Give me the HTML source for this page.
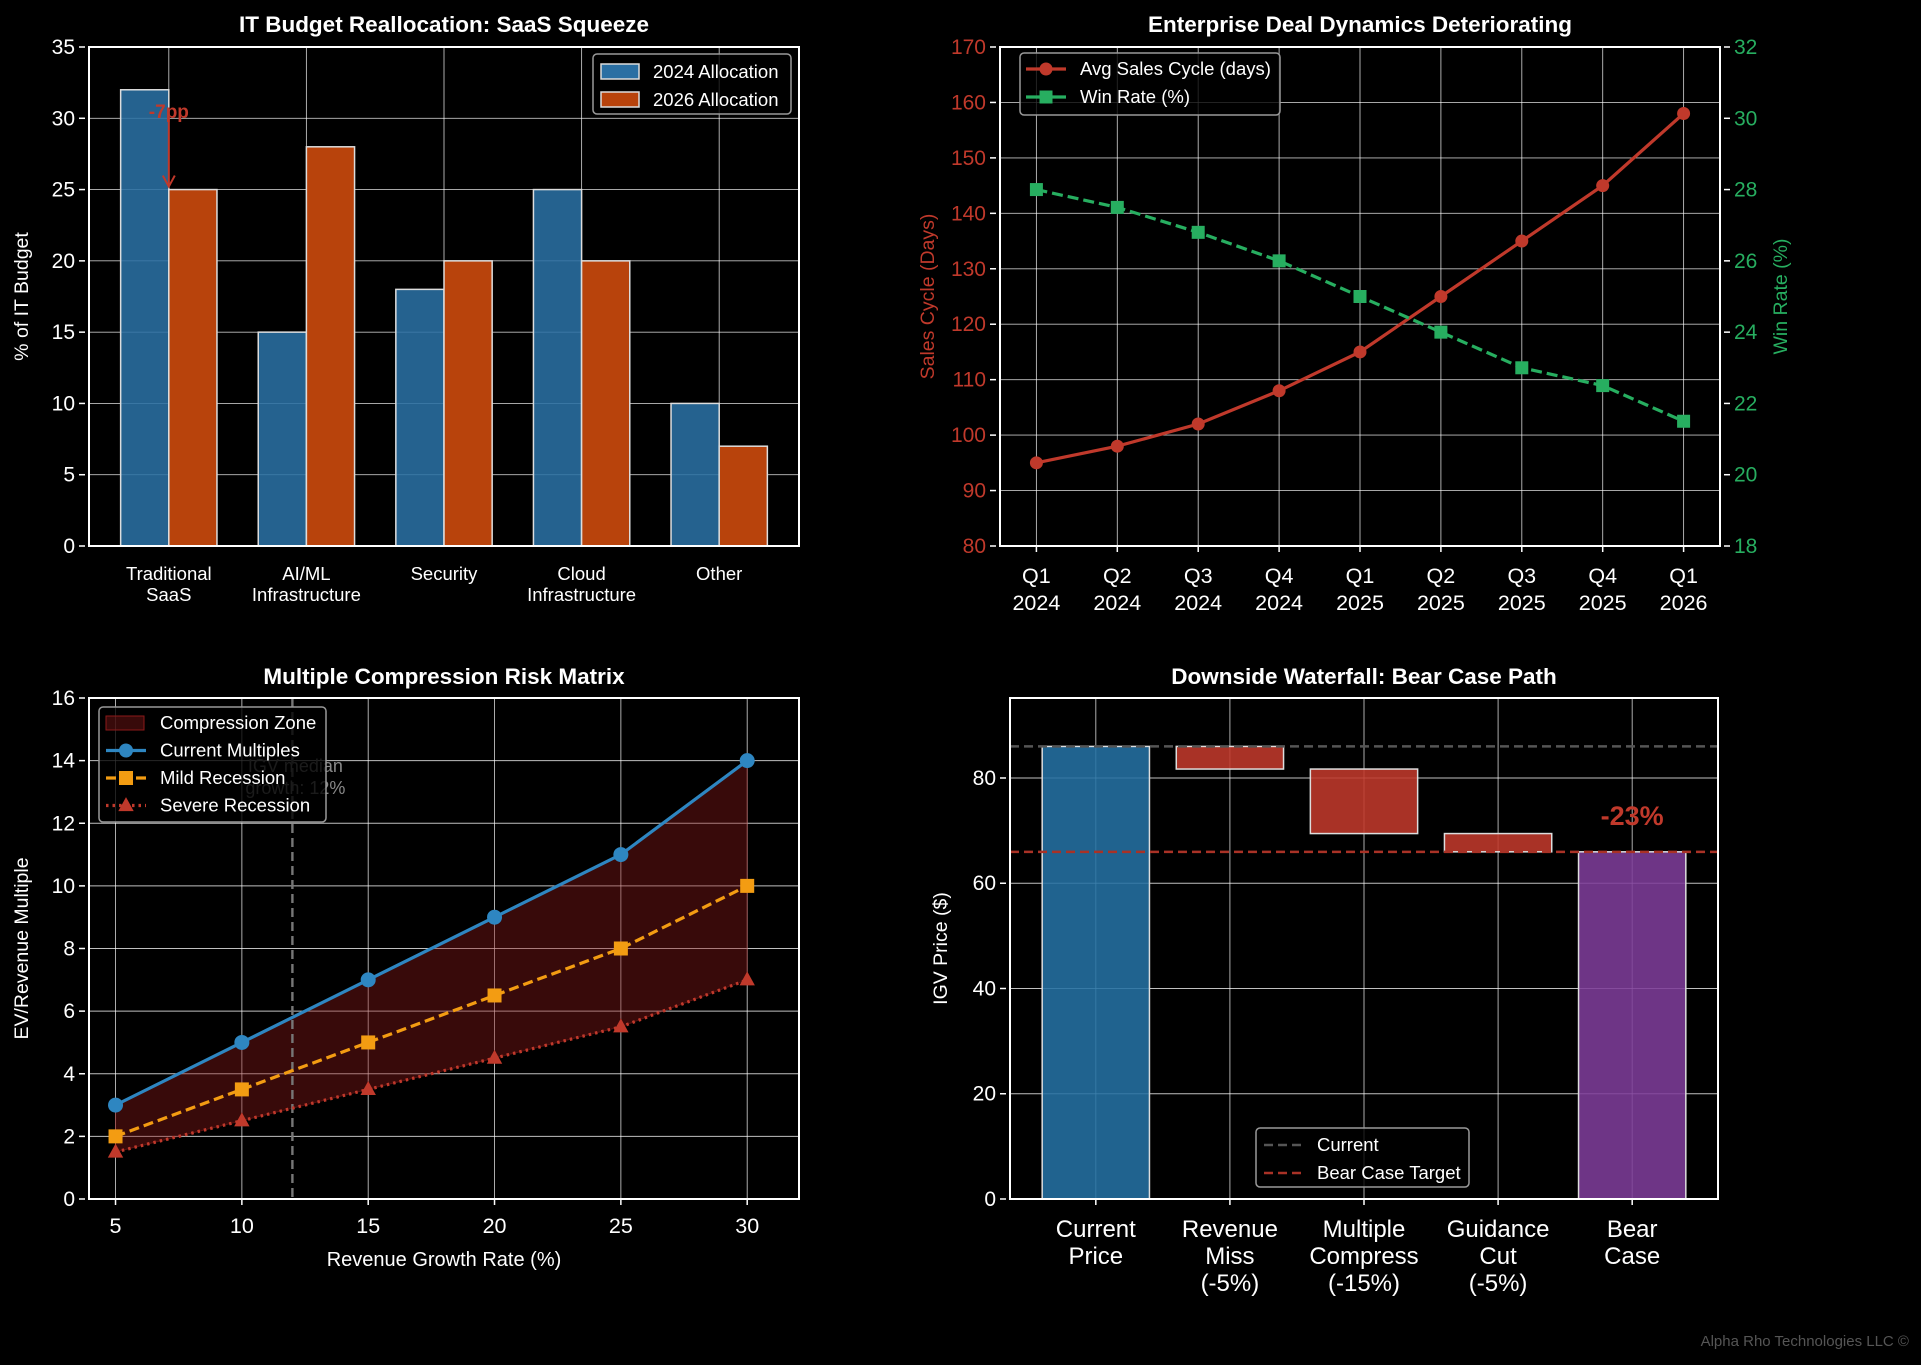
<!DOCTYPE html>
<html><head><meta charset="utf-8">
<style>
html,body{margin:0;padding:0;background:#000;}
svg{display:block;font-family:"Liberation Sans",Arial,sans-serif;}
</style></head>
<body>
<svg id="fig" width="1921" height="1365" viewBox="0 0 1921 1365" xmlns="http://www.w3.org/2000/svg">
<rect width="1921" height="1365" fill="#000"/>
<text x="1909" y="1346" text-anchor="end" font-size="15" fill="#555">Alpha Rho Technologies LLC ©</text>
</svg>
<script>
// ---- Chart 1 data ----
const budgetCategories = ["Traditional\nSaaS","AI/ML\nInfrastructure","Security","Cloud\nInfrastructure","Other"];
const alloc2024 = [32,15,18,25,10];
const alloc2026 = [25,28,20,20,7];
const budgetTicks = [0,5,10,15,20,25,30,35];
// ---- Chart 2 data ----
const quarters = ["Q1\n2024","Q2\n2024","Q3\n2024","Q4\n2024","Q1\n2025","Q2\n2025","Q3\n2025","Q4\n2025","Q1\n2026"];
const salesCycle = [95,98,102,108,115,125,135,145,158];
const winRate = [28,27.5,26.8,26,25,24,23,22.5,21.5];
const cycleTicks = [80,90,100,110,120,130,140,150,160,170];
const winTicks = [18,20,22,24,26,28,30,32];
// ---- Chart 3 data ----
const growthRates = [5,10,15,20,25,30];
const currentMultiples = [3,5,7,9,11,14];
const mildMultiples = [2,3.5,5,6.5,8,10];
const severeMultiples = [1.5,2.5,3.5,4.5,5.5,7];
const multTicks = [0,2,4,6,8,10,12,14,16];
const growthTicks = [5,10,15,20,25,30];
const medianGrowth = [12];
// ---- Chart 4 data ----
const wfLabels = ["Current\nPrice","Revenue\nMiss\n(-5%)","Multiple\nCompress\n(-15%)","Guidance\nCut\n(-5%)","Bear\nCase"];
const wfChanges = [86,-4.3,-12.26,-3.47,65.97];
const priceTicks = [0,20,40,60,80];

const NS="http://www.w3.org/2000/svg";
const svg=document.getElementById('fig');
const LEG=18.5, AXT=19.5, TTL=22.5;
function mk(tag,attrs,parent){const e=document.createElementNS(NS,tag);for(const k in attrs)e.setAttribute(k,attrs[k]);(parent||svg).appendChild(e);return e;}
function txt(x,y,str,attrs,parent){const t=mk('text',Object.assign({x:x,y:y},attrs),parent);t.textContent=str;return t;}
function lin(d0,d1,r0,r1){return v=>r0+(v-d0)*(r1-r0)/(d1-d0);}
function multiline(x,y,str,lh,attrs,name){const lines=str.split("\n");lines.forEach((s,i)=>{const t=txt(x,y+i*lh,s,attrs);});}
function frame(L,T,R,B,name){const r=mk('rect',{x:L,y:T,width:R-L,height:B-T,fill:'none',stroke:'#fff','stroke-width':2});}
function hgrid(ticks,y,L,R,name){ticks.forEach(v=>{const l=mk('line',{x1:L,x2:R,y1:y(v),y2:y(v),stroke:'#fff','stroke-width':0.9,opacity:0.75});});}
function vgrid(vals,x,T,B,name){vals.forEach(v=>{const l=mk('line',{x1:x(v),x2:x(v),y1:T,y2:B,stroke:'#fff','stroke-width':0.9,opacity:0.75});});}
function yTickLabels(ticks,y,xp,anchor,color,name){ticks.forEach(v=>{mk('line',{x1:anchor==='end'?xp+4:xp-4,x2:anchor==='end'?xp+10:xp-10,y1:y(v),y2:y(v),stroke:'#fff','stroke-width':1.5});const t=txt(xp,y(v)+7,String(v),{'text-anchor':anchor,'font-size':21,fill:color});});}
function title(x,y,s,name){const t=txt(x,y,s,{'text-anchor':'middle','font-size':TTL,'font-weight':'bold',fill:'#fff'});}
function vlabel(x,y,s,color,name,size){const t=txt(x,y,s,{'text-anchor':'middle','font-size':size||AXT,fill:color,transform:`rotate(-90 ${x} ${y})`});}
function legendBox(x,y,w,h,name){const r=mk('rect',{x:x,y:y,width:w,height:h,rx:4,fill:'#000','fill-opacity':0.8,stroke:'#999','stroke-width':1.5});}
function marker(kind,cx,cy,s,color,parent){
  if(kind==='o')return mk('circle',{cx:cx,cy:cy,r:s,fill:color},parent);
  if(kind==='s')return mk('rect',{x:cx-s,y:cy-s,width:2*s,height:2*s,fill:color},parent);
  return mk('polygon',{points:`${cx},${cy-s*1.2} ${cx-s*1.1},${cy+s*0.8} ${cx+s*1.1},${cy+s*0.8}`,fill:color},parent);
}

// ================= Chart 1 =================
(function(){
  const L=89,T=47,R=799,B=546;
  const x=lin(-0.58,4.58,L,R), y=lin(0,35,B,T);
  hgrid(budgetTicks,y,L,R,'budget-gridline');
  vgrid(budgetCategories.map((c,i)=>i),x,T,B,'budget-gridline');
  const w=0.35;
  alloc2024.forEach((v,i)=>{const r=mk('rect',{x:x(i-w),y:y(v),width:x(i)-x(i-w),height:y(0)-y(v),fill:'#2a6fa3','fill-opacity':0.88,stroke:'#ddd','stroke-width':1.5});
    });
  alloc2026.forEach((v,i)=>{const r=mk('rect',{x:x(i),y:y(v),width:x(i+w)-x(i),height:y(0)-y(v),fill:'#b8430c',stroke:'#ddd','stroke-width':1.5});
    });
  frame(L,T,R,B,'budget-axes-frame');
  yTickLabels(budgetTicks,y,L-14,'end','#fff','budget-y-tick');
  budgetCategories.forEach((c,i)=>multiline(x(i),580,c,21,{'text-anchor':'middle','font-size':18.5,fill:'#fff'},'budget-x-tick'));
  vlabel(28,(T+B)/2,'% of IT Budget','#fff','budget-y-axis-title');
  title((L+R)/2,32,'IT Budget Reallocation: SaaS Squeeze','budget-chart-title');
  const ax=x(0);
  const a=txt(ax-20,118,'-7pp',{'font-size':19,'font-weight':'bold',fill:'#c0392b'});
  const al=mk('line',{x1:ax,x2:ax,y1:y(30)-8,y2:y(25)-4,stroke:'#c0392b','stroke-width':2});
  mk('polyline',{points:`${ax-6},${y(25)-14} ${ax},${y(25)-3} ${ax+6},${y(25)-14}`,fill:'none',stroke:'#c0392b','stroke-width':2});
  legendBox(593,54,198,60,'budget-legend');
  [['2024 Allocation','#2a6fa3'],['2026 Allocation','#b8430c']].forEach((e,i)=>{
    const yy=69+i*28;
    const r=mk('rect',{x:601,y:yy-5,width:38,height:15,fill:e[1],stroke:'#ddd','stroke-width':1.5});
    const t=txt(653,yy+9,e[0],{'font-size':LEG,fill:'#fff'});
  });
})();

// ================= Chart 2 =================
(function(){
  const L=1000,T=47,R=1720,B=546;
  const x=lin(-0.45,8.45,L,R), y=lin(80,170,B,T), y2=lin(18,32,B,T);
  hgrid(cycleTicks,y,L,R,'deal-gridline');
  vgrid(quarters.map((q,i)=>i),x,T,B,'deal-gridline');
  const red='#c0392b', green='#27ae60';
  const p1=mk('polyline',{points:salesCycle.map((v,i)=>x(i)+','+y(v)).join(' '),fill:'none',stroke:red,'stroke-width':3.2});
  
  salesCycle.forEach((v,i)=>{const m=marker('o',x(i),y(v),6.5,red);});
  const p2=mk('polyline',{points:winRate.map((v,i)=>x(i)+','+y2(v)).join(' '),fill:'none',stroke:green,'stroke-width':3.2,'stroke-dasharray':'11 5'});
  
  winRate.forEach((v,i)=>{const m=marker('s',x(i),y2(v),6.5,green);});
  frame(L,T,R,B,'deal-axes-frame');
  yTickLabels(cycleTicks,y,L-14,'end',red,'cycle-y-tick');
  yTickLabels(winTicks,y2,R+14,'start',green,'win-y-tick');
  quarters.forEach((q,i)=>{mk('line',{x1:x(i),x2:x(i),y1:B,y2:B+6,stroke:'#fff','stroke-width':1.5});multiline(x(i),583,q,27,{'text-anchor':'middle','font-size':21.5,fill:'#fff'},'quarter-x-tick');});
  vlabel(934,(T+B)/2,'Sales Cycle (Days)',red,'cycle-y-axis-title');
  vlabel(1787,(T+B)/2,'Win Rate (%)',green,'win-y-axis-title');
  title((L+R)/2,32,'Enterprise Deal Dynamics Deteriorating','deal-chart-title');
  legendBox(1020,53,260,62,'deal-legend');
  [['Avg Sales Cycle (days)',red,'o'],['Win Rate (%)',green,'s']].forEach((e,i)=>{
    const yy=69+i*28;
    mk('line',{x1:1026,x2:1066,y1:yy,y2:yy,stroke:e[1],'stroke-width':3.2});
    marker(e[2],1046,yy,6.5,e[1]);
    const t=txt(1080,yy+6,e[0],{'font-size':LEG,fill:'#fff'});
  });
})();

// ================= Chart 3 =================
(function(){
  const L=89,T=698,R=799,B=1199;
  const x=lin(3.95,32.05,L,R), y=lin(0,16,B,T);
  hgrid(multTicks,y,L,R,'risk-gridline');
  vgrid(growthTicks,x,T,B,'risk-gridline');
  const top=growthRates.map((g,i)=>x(g)+','+y(currentMultiples[i]));
  const bot=growthRates.map((g,i)=>x(g)+','+y(severeMultiples[i])).reverse();
  const poly=mk('polygon',{points:top.concat(bot).join(' '),fill:'#8b1a1a','fill-opacity':0.4,stroke:'#8b1a1a','stroke-opacity':0.5});
  
  const ml=mk('line',{x1:x(medianGrowth[0]),x2:x(medianGrowth[0]),y1:T,y2:B,stroke:'#777','stroke-width':2.4,'stroke-dasharray':'9 5'});
  
  multiline(x(medianGrowth[0])+3,772,'IGV median\ngrowth: 12%',22,{'text-anchor':'middle','font-size':18,fill:'#888'},'median-growth-label');
  const series=[[currentMultiples,'#2e86c1','o',7.5,'none','current-multiples'],[mildMultiples,'#f39c12','s',7,'10 5','mild-recession'],[severeMultiples,'#c0392b','^',7,'2.5 4','severe-recession']];
  series.forEach(s=>{
    const p=mk('polyline',{points:growthRates.map((g,i)=>x(g)+','+y(s[0][i])).join(' '),fill:'none',stroke:s[1],'stroke-width':3.2,'stroke-dasharray':s[4]});
    
    growthRates.forEach((g,i)=>{const m=marker(s[2],x(g),y(s[0][i]),s[3],s[1]);});
  });
  frame(L,T,R,B,'risk-axes-frame');
  yTickLabels(multTicks,y,L-14,'end','#fff','multiple-y-tick');
  growthTicks.forEach(g=>{mk('line',{x1:x(g),x2:x(g),y1:B,y2:B+6,stroke:'#fff','stroke-width':1.5});const t=txt(x(g),B+34,String(g),{'text-anchor':'middle','font-size':21.5,fill:'#fff'});});
  const xl=txt((L+R)/2,1266,'Revenue Growth Rate (%)',{'text-anchor':'middle','font-size':20,fill:'#fff'});
  vlabel(28,(T+B)/2,'EV/Revenue Multiple','#fff','multiple-y-axis-title');
  title((L+R)/2,684,'Multiple Compression Risk Matrix','risk-chart-title');
  legendBox(99,707,227,115,'risk-legend');
  const ents=[['Compression Zone'],['Current Multiples','#2e86c1','o','none'],['Mild Recession','#f39c12','s','10 5'],['Severe Recession','#c0392b','^','2.5 4']];
  ents.forEach((e,i)=>{
    const yy=723+i*27.5;
    if(i===0){mk('rect',{x:106,y:yy-7,width:38,height:14,fill:'#8b1a1a','fill-opacity':0.4,stroke:'#8b1a1a'});}
    else{mk('line',{x1:106,x2:146,y1:yy,y2:yy,stroke:e[1],'stroke-width':3.2,'stroke-dasharray':e[3]});marker(e[2],126,yy,7,e[1]);}
    const t=txt(160,yy+6,e[0],{'font-size':LEG,fill:'#fff'});
  });
})();

// ================= Chart 4 =================
(function(){
  const L=1010,T=698,R=1718,B=1199;
  const x=lin(-0.64,4.64,L,R), y=lin(0,95.2,B,T);
  hgrid(priceTicks,y,L,R,'waterfall-gridline');
  vgrid(wfLabels.map((c,i)=>i),x,T,B,'waterfall-gridline');
  let level=0;const w=0.4;
  wfChanges.forEach((v,i)=>{
    let lo,hi,fill;
    if(i===0){lo=0;hi=v;level=v;fill='#2471a3';}
    else if(i===wfChanges.length-1){lo=0;hi=v;fill='#7d3c98';}
    else{hi=level;lo=level+v;level=lo;fill='#c0392b';}
    const r=mk('rect',{x:x(i-w),y:y(hi),width:x(i+w)-x(i-w),height:y(lo)-y(hi),fill:fill,'fill-opacity':0.88,stroke:'#ddd','stroke-width':1.5});
    
  });
  const cur=wfChanges[0], bear=wfChanges[wfChanges.length-1];
  const l1=mk('line',{x1:L,x2:R,y1:y(cur),y2:y(cur),stroke:'#555','stroke-width':2.5,'stroke-dasharray':'9 5'});
  const l2=mk('line',{x1:L,x2:R,y1:y(bear),y2:y(bear),stroke:'#a93226','stroke-width':2.5,'stroke-dasharray':'9 5'});
  const pct=Math.round((bear/cur-1)*100);
  const pt=txt(x(4),y(bear)+(y(bear+7)-y(bear))+10,pct+'%',{'text-anchor':'middle','font-size':27,'font-weight':'bold',fill:'#c0392b'});
  frame(L,T,R,B,'waterfall-axes-frame');
  yTickLabels(priceTicks,y,L-14,'end','#fff','price-y-tick');
  wfLabels.forEach((c,i)=>{mk('line',{x1:x(i),x2:x(i),y1:B,y2:B+6,stroke:'#fff','stroke-width':1.5});multiline(x(i),1237,c,27,{'text-anchor':'middle','font-size':24,fill:'#fff'},'waterfall-x-tick');});
  vlabel(947,(T+B)/2,'IGV Price ($)','#fff','price-y-axis-title');
  title((L+R)/2,684,'Downside Waterfall: Bear Case Path','waterfall-chart-title');
  legendBox(1256,1128,213,59,'waterfall-legend');
  [['Current','#555'],['Bear Case Target','#a93226']].forEach((e,i)=>{
    const yy=1145+i*28;
    mk('line',{x1:1264,x2:1302,y1:yy,y2:yy,stroke:e[1],'stroke-width':2.5,'stroke-dasharray':'9 5'});
    const t=txt(1317,yy+6,e[0],{'font-size':LEG,fill:'#fff'});
  });
})();
</script>
</body></html>
